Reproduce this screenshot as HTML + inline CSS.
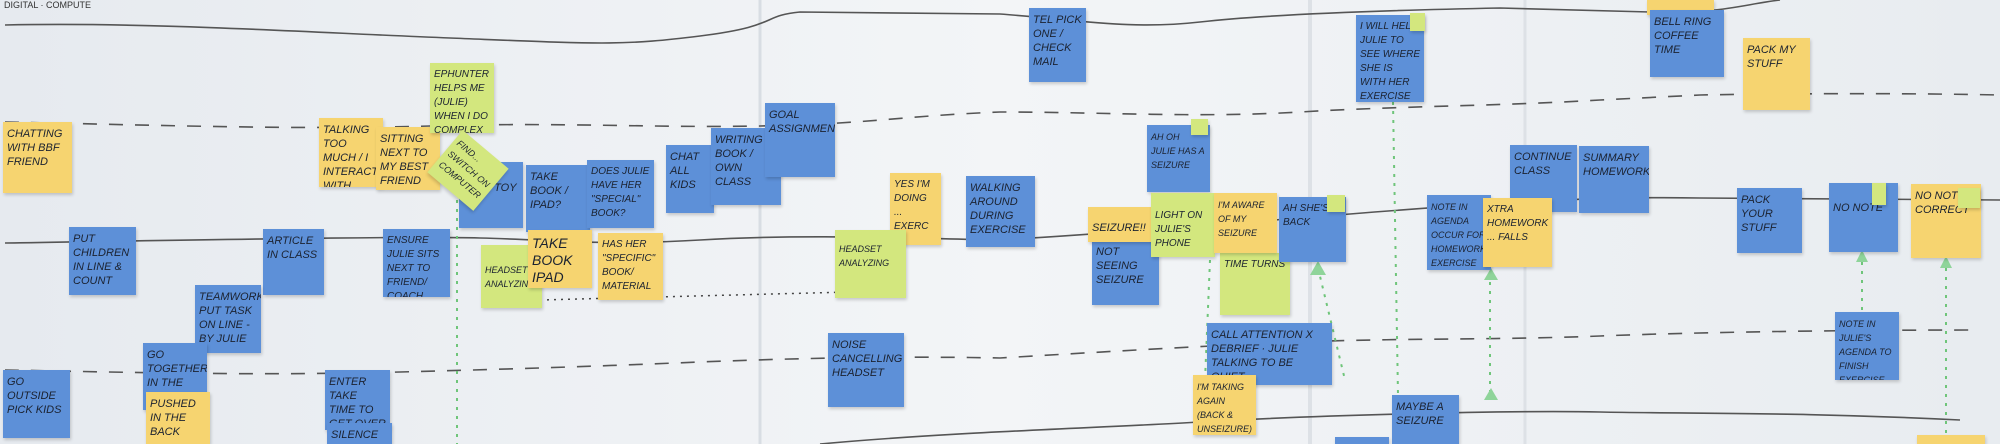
<!DOCTYPE html>
<html><head><meta charset="utf-8"><style>
body{margin:0;width:2000px;height:444px;overflow:hidden;background:#eef1f4;position:relative;font-family:"Liberation Sans",sans-serif}
.n{position:absolute;box-sizing:border-box;padding:5px 4px;font-size:11px;line-height:14px;color:#1b2230;box-shadow:1px 2px 3px rgba(0,0,0,.18);overflow:hidden;text-transform:uppercase;font-style:italic}
.b{background:#5d90d8}.y{background:#f6d470}.g{background:#d3e77e}
svg{position:absolute;left:0;top:0}
</style></head><body>
<svg width="2000" height="444">
<defs><linearGradient id="bg" x1="0" x2="1"><stop offset="0" stop-color="#e6eaef"/><stop offset=".5" stop-color="#f3f5f7"/><stop offset="1" stop-color="#e8ecf0"/></linearGradient></defs>
<rect width="2000" height="444" fill="url(#bg)"/>
<line x1="760" y1="0" x2="760" y2="444" stroke="#d8dde3" stroke-width="3"/>
<line x1="1310" y1="0" x2="1310" y2="444" stroke="#dde1e6" stroke-width="4"/>
<line x1="1525" y1="0" x2="1525" y2="444" stroke="#dde1e6" stroke-width="3"/>
<g fill="none" stroke="#555" stroke-width="1.6">
<path d="M5 25 C150 22 300 32 450 38 S620 46 700 36 S760 16 800 12 L1000 14 C1080 20 1130 30 1200 22 S1400 10 1500 8 L1650 12 C1720 14 1740 5 1780 0"/>
<path d="M5 243 C200 240 400 236 480 238 S600 246 700 240 S900 238 1000 240 C1100 234 1200 226 1350 214 S1600 196 1700 198 L2000 200"/>
<path d="M820 444 C950 432 1100 428 1200 422 S1500 410 1600 412 S1800 412 1960 420"/>
</g>
<g fill="none" stroke="#555" stroke-width="1.6" stroke-dasharray="14 12">
<path d="M5 122 C150 125 300 130 430 126 S650 128 760 126 S900 116 1000 112 C1100 112 1200 118 1300 112 S1500 106 1600 100 L1700 95 S1850 92 2000 95"/>
<path d="M5 370 C120 372 250 376 400 372 S600 366 700 362 S900 356 1000 358 C1100 352 1200 346 1300 342 S1500 340 1600 336 S1850 330 1980 330"/>
</g>
<path d="M540 300 L850 292" stroke="#444" stroke-width="1.5" stroke-dasharray="2 5" fill="none"/>
<g stroke="#6fc57a" stroke-width="2" stroke-dasharray="3 6" fill="none">
<line x1="457" y1="200" x2="457" y2="444"/><line x1="1393" y1="102" x2="1398" y2="395"/>
<line x1="1210" y1="260" x2="1205" y2="380"/><line x1="1318" y1="268" x2="1345" y2="380"/>
<line x1="1490" y1="282" x2="1490" y2="400"/><line x1="1862" y1="262" x2="1862" y2="310"/><line x1="1946" y1="268" x2="1946" y2="444"/>
</g>
<g fill="#8fd49a"><path d="M1386 100 l7 -12 l7 12z"/><path d="M1310 275 l8 -14 l8 14z"/><path d="M1484 280 l7 -12 l7 12z"/><path d="M1484 400 l7 -12 l7 12z"/><path d="M1856 262 l6 -12 l6 12z"/><path d="M1940 268 l6 -12 l6 12z"/></g>
<text x="4" y="8" font-size="9" fill="#333" font-family="Liberation Sans">DIGITAL · COMPUTE</text>
</svg>

<div class="n y" style="left:3px;top:122px;width:69px;height:71px">Chatting with BBF friend</div>
<div class="n y" style="left:319px;top:118px;width:64px;height:69px">Talking too much / I interact with friend</div>
<div class="n y" style="left:376px;top:127px;width:64px;height:63px">Sitting next to my best friend (also my</div>
<div class="n g" style="left:430px;top:63px;width:64px;height:70px;font-size:10px">Ephunter helps me (Julie) when I do complex things</div>
<div class="n b" style="left:459px;top:162px;width:64px;height:66px">chat with toy</div>
<div class="n g" style="left:438px;top:143px;width:60px;height:55px;transform:rotate(40deg);font-size:9px">Find... switch on computer</div>
<div class="n b" style="left:526px;top:165px;width:64px;height:67px">take book / ipad?</div>
<div class="n b" style="left:587px;top:160px;width:67px;height:68px;font-size:10px">Does Julie have her "special" book?</div>
<div class="n b" style="left:666px;top:145px;width:48px;height:68px">chat all kids</div>
<div class="n b" style="left:711px;top:128px;width:70px;height:77px">writing book / own class</div>
<div class="n b" style="left:765px;top:103px;width:70px;height:74px">goal assignment</div>
<div class="n y" style="left:890px;top:173px;width:51px;height:72px;font-size:10px">Yes I'm doing ... exerc</div>
<div class="n b" style="left:966px;top:176px;width:69px;height:71px">walking around during exercise</div>
<div class="n b" style="left:69px;top:227px;width:67px;height:68px">Put children in line &amp; count</div>
<div class="n b" style="left:263px;top:229px;width:61px;height:66px">article in class</div>
<div class="n b" style="left:383px;top:229px;width:67px;height:68px;font-size:10px">Ensure Julie sits next to friend/ coach</div>
<div class="n g" style="left:481px;top:245px;width:61px;height:63px;font-size:9px;padding-top:18px">Headset analyzing</div>
<div class="n y" style="left:528px;top:230px;width:64px;height:58px;font-size:14px;line-height:17px">Take book iPad</div>
<div class="n y" style="left:598px;top:233px;width:65px;height:67px;font-size:10px">Has her "specific" book/ material</div>
<div class="n g" style="left:835px;top:230px;width:71px;height:68px;font-size:9px;padding-top:12px">headset analyzing</div>
<div class="n b" style="left:195px;top:285px;width:66px;height:68px">teamwork put task on line - by Julie</div>
<div class="n b" style="left:143px;top:343px;width:64px;height:67px">go together in the class</div>
<div class="n y" style="left:146px;top:392px;width:64px;height:52px">Pushed in the back</div>
<div class="n b" style="left:3px;top:370px;width:67px;height:68px">go outside pick kids</div>
<div class="n b" style="left:325px;top:370px;width:65px;height:60px">enter take time to get over</div>
<div class="n b" style="left:327px;top:423px;width:65px;height:21px">silence</div>
<div class="n b" style="left:828px;top:333px;width:76px;height:74px">noise cancelling headset</div>

<div class="n b" style="left:1029px;top:8px;width:57px;height:74px">tel pick one / check mail</div>
<div class="n b" style="left:1356px;top:15px;width:68px;height:87px;font-size:10px">I will help Julie to see where she is with her exercise</div>
<div class="n g" style="left:1410px;top:13px;width:15px;height:18px;padding:0"></div>
<div class="n y" style="left:1647px;top:0px;width:67px;height:15px"></div>
<div class="n b" style="left:1650px;top:10px;width:74px;height:67px">bell ring coffee time</div>
<div class="n y" style="left:1743px;top:38px;width:67px;height:72px">Pack my stuff</div>
<div class="n b" style="left:1147px;top:125px;width:63px;height:67px;font-size:9px">Ah oh Julie has a seizure</div>
<div class="n g" style="left:1191px;top:119px;width:17px;height:16px;padding:0"></div>
<div class="n b" style="left:1092px;top:240px;width:67px;height:65px">not seeing seizure</div>
<div class="n y" style="left:1088px;top:207px;width:65px;height:35px;padding-top:14px">Seizure!!</div>
<div class="n g" style="left:1220px;top:253px;width:70px;height:62px;font-size:10px">Time turns</div>
<div class="n g" style="left:1151px;top:193px;width:64px;height:64px;font-size:10px;padding-top:16px">Light on Julie's phone</div>
<div class="n y" style="left:1214px;top:193px;width:63px;height:60px;font-size:9px">I'm aware of my seizure</div>
<div class="n b" style="left:1279px;top:197px;width:67px;height:65px;font-size:10px">Ah she's back</div>
<div class="n g" style="left:1327px;top:195px;width:18px;height:17px;padding:0"></div>
<div class="n b" style="left:1207px;top:323px;width:125px;height:62px">call attention x debrief · Julie talking to be quiet</div>
<div class="n y" style="left:1193px;top:375px;width:63px;height:60px;font-size:9px">I'm taking again (back &amp; unseizure)</div>
<div class="n b" style="left:1510px;top:145px;width:67px;height:67px">continue class</div>
<div class="n b" style="left:1579px;top:146px;width:70px;height:67px">summary homework</div>
<div class="n b" style="left:1427px;top:195px;width:64px;height:75px;font-size:9px">note in agenda occur for homework exercise</div>
<div class="n y" style="left:1483px;top:198px;width:69px;height:69px;font-size:10px">xtra homework ... falls</div>
<div class="n b" style="left:1737px;top:188px;width:65px;height:65px">pack your stuff</div>
<div class="n b" style="left:1829px;top:183px;width:69px;height:69px;padding-top:18px">No Note</div>
<div class="n g" style="left:1872px;top:183px;width:14px;height:22px;padding:0"></div>
<div class="n y" style="left:1911px;top:184px;width:70px;height:74px">No note correct</div>
<div class="n g" style="left:1958px;top:188px;width:22px;height:20px;padding:0"></div>
<div class="n b" style="left:1835px;top:312px;width:64px;height:68px;font-size:9px">Note in Julie's agenda to finish exercise at home</div>
<div class="n b" style="left:1392px;top:395px;width:67px;height:49px">maybe a seizure</div>
<div class="n b" style="left:1335px;top:437px;width:54px;height:7px;padding:0"></div>
<div class="n y" style="left:1917px;top:435px;width:68px;height:9px;padding:0"></div>
</body></html>
